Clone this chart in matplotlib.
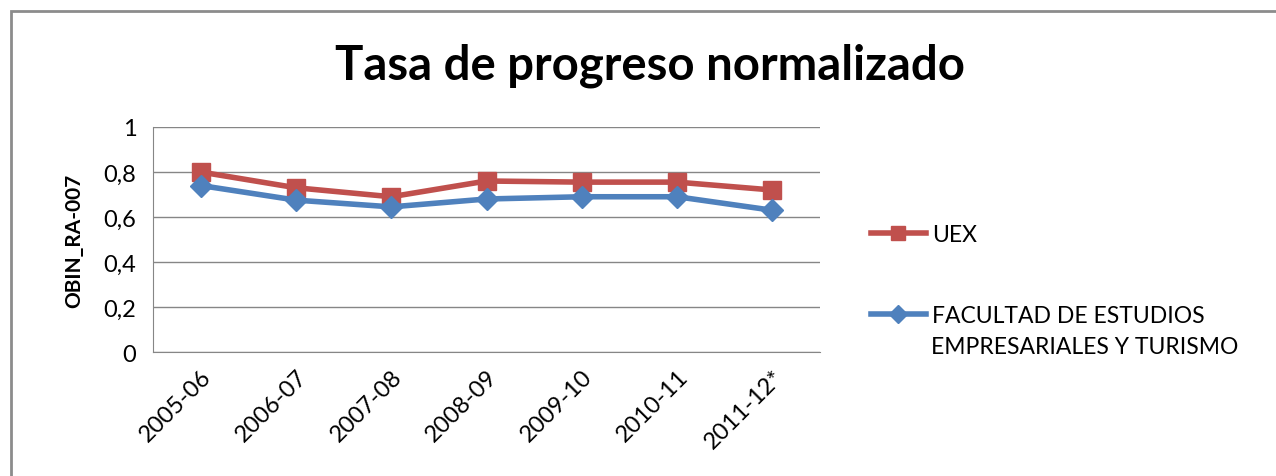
import matplotlib.pyplot as plt
from matplotlib.patches import Rectangle

# ----------------------------
# Data
# ----------------------------
years = ['2005-06', '2006-07', '2007-08', '2008-09', '2009-10', '2010-11', '2011-12*']
uex = [0.80, 0.73, 0.69, 0.76, 0.755, 0.755, 0.72]
facultad = [0.74, 0.675, 0.645, 0.68, 0.69, 0.69, 0.63]
y_ticks = [0, 0.2, 0.4, 0.6, 0.8, 1.0]
y_tick_labels = ['0', '0,2', '0,4', '0,6', '0,8', '1']

plt.rcParams['font.family'] = ['Lato', 'DejaVu Sans']

fig = plt.figure(figsize=(12.76, 4.77), dpi=100)
W, H = 1276, 477

# outer chart frame (runs off the right and bottom edge)
fig.patches.append(Rectangle((11 / W, -0.1), 1.2, 1 - 12 / H + 0.1,
                             transform=fig.transFigure, fill=False,
                             edgecolor='#8c8c8c', linewidth=2))

# plot area in pixels: x 153..820, y 128..353
ax = fig.add_axes([153 / W, 1 - 353 / H, (820 - 153) / W, (353 - 128) / H])

x = range(len(years))
ax.plot(x, uex, color='#C0504D', linewidth=4, marker='s', markersize=13,
        label='UEX', zorder=3)
ax.plot(x, facultad, color='#4F81BD', linewidth=4, marker='D', markersize=11,
        label='FACULTAD DE ESTUDIOS', zorder=3)

ax.set_xlim(-0.5, len(years) - 0.5)
ax.set_ylim(0, 1)
ax.set_yticks(y_ticks)
ax.set_yticklabels(y_tick_labels, fontsize=17)
ax.set_xticks(list(x))
ax.set_xticklabels(years, rotation=45, ha='right', rotation_mode='anchor', fontsize=17)
ax.tick_params(axis='x', length=0, pad=10)
ax.tick_params(axis='y', length=0, pad=12)

ax.grid(axis='y', color='#868686', linewidth=1)
ax.set_axisbelow(True)
for side in ['top', 'right']:
    ax.spines[side].set_visible(False)
ax.spines['left'].set_color('#868686')
ax.spines['bottom'].set_color('#868686')

ax.set_ylabel('OBIN_RA-007', fontsize=15, fontweight='bold', labelpad=14)

fig.text(650 / W, 1 - 66 / H, 'Tasa de progreso normalizado', fontsize=34,
         fontweight='bold', ha='center', va='center')

leg = fig.legend(loc='upper left', bbox_to_anchor=(850 / W, 1 - 204 / H),
                 frameon=False, fontsize=16.5, markerscale=0.8,
                 handlelength=2.4, handletextpad=0.3, labelspacing=2.65)
# second line of the long legend label, as in the original (marker on first line)
fig.text(931 / W, 1 - 348 / H, 'EMPRESARIALES Y TURISMO', fontsize=16.5,
         ha='left', va='center')

plt.savefig('out.png', dpi=100)
